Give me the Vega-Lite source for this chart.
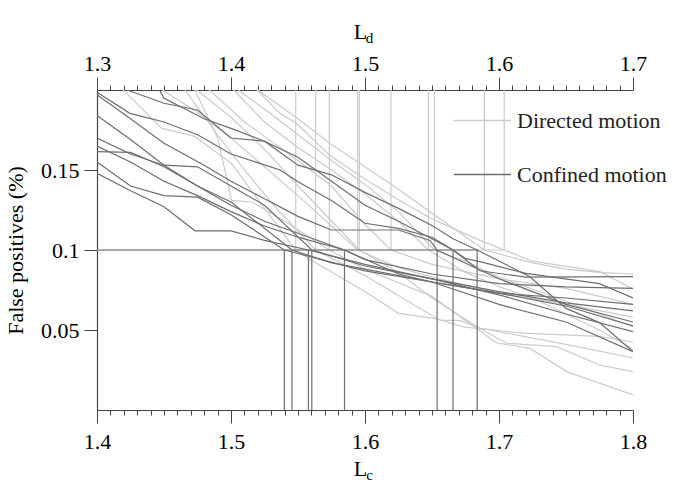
{
  "$schema": "https://vega.github.io/schema/vega-lite/v6.json",
  "width": 536,
  "height": 320,
  "autosize": {"type": "none"},
  "padding": {"left": 97, "top": 90, "right": 41, "bottom": 74},
  "background": "white",
  "config": {
    "view": {"stroke": null},
    "font": "Liberation Serif, Times New Roman, serif",
    "text": {"font": "Liberation Serif, Times New Roman, serif"},
    "axis": {"labelFont": "Liberation Serif, Times New Roman, serif", "titleFont": "Liberation Serif, Times New Roman, serif", "labelFontSize": 22, "titleFontSize": 22, "labelColor": "black", "titleColor": "black", "titleFontWeight": "normal", "domainColor": "#444444", "tickColor": "#444444", "domainWidth": 1.2, "tickWidth": 1, "grid": false, "labelOverlap": false, "labelFlush": false},
    "legend": {"labelFont": "Liberation Serif, Times New Roman, serif"}
  },
  "datasets": {
    "directed": [
      {"id": "d1", "L": 1.30, "fp": 0.228}, {"id": "d1", "L": 1.3196, "fp": 0.200}, {"id": "d1", "L": 1.3483, "fp": 0.176}, {"id": "d1", "L": 1.373, "fp": 0.171}, {"id": "d1", "L": 1.4005, "fp": 0.154}, {"id": "d1", "L": 1.425, "fp": 0.126}, {"id": "d1", "L": 1.4483, "fp": 0.100}, {"id": "d1", "L": 1.459, "fp": 0.094}, {"id": "d1", "L": 1.50, "fp": 0.074}, {"id": "d1", "L": 1.525, "fp": 0.0604}, {"id": "d1", "L": 1.5535, "fp": 0.057}, {"id": "d1", "L": 1.5734, "fp": 0.052}, {"id": "d1", "L": 1.5933, "fp": 0.050}, {"id": "d1", "L": 1.65, "fp": 0.041}, {"id": "d1", "L": 1.70, "fp": 0.0325},
      {"id": "d2", "L": 1.30, "fp": 0.25}, {"id": "d2", "L": 1.3657, "fp": 0.200}, {"id": "d2", "L": 1.39, "fp": 0.172}, {"id": "d2", "L": 1.41, "fp": 0.150}, {"id": "d2", "L": 1.435, "fp": 0.125}, {"id": "d2", "L": 1.4632, "fp": 0.100}, {"id": "d2", "L": 1.50, "fp": 0.084}, {"id": "d2", "L": 1.556, "fp": 0.056}, {"id": "d2", "L": 1.571, "fp": 0.056}, {"id": "d2", "L": 1.586, "fp": 0.051}, {"id": "d2", "L": 1.618, "fp": 0.048}, {"id": "d2", "L": 1.675, "fp": 0.046}, {"id": "d2", "L": 1.70, "fp": 0.0425},
      {"id": "d3", "L": 1.30, "fp": 0.24}, {"id": "d3", "L": 1.373, "fp": 0.200}, {"id": "d3", "L": 1.39, "fp": 0.17}, {"id": "d3", "L": 1.4005, "fp": 0.131}, {"id": "d3", "L": 1.4157, "fp": 0.130}, {"id": "d3", "L": 1.44, "fp": 0.118}, {"id": "d3", "L": 1.4734, "fp": 0.100}, {"id": "d3", "L": 1.50, "fp": 0.088}, {"id": "d3", "L": 1.55, "fp": 0.071}, {"id": "d3", "L": 1.598, "fp": 0.042}, {"id": "d3", "L": 1.6231, "fp": 0.0385}, {"id": "d3", "L": 1.6505, "fp": 0.024}, {"id": "d3", "L": 1.70, "fp": 0.0094},
      {"id": "d4", "L": 1.30, "fp": 0.235}, {"id": "d4", "L": 1.349, "fp": 0.200}, {"id": "d4", "L": 1.375, "fp": 0.186}, {"id": "d4", "L": 1.40, "fp": 0.170}, {"id": "d4", "L": 1.425, "fp": 0.152}, {"id": "d4", "L": 1.45, "fp": 0.134}, {"id": "d4", "L": 1.4946, "fp": 0.100}, {"id": "d4", "L": 1.525, "fp": 0.089}, {"id": "d4", "L": 1.55, "fp": 0.083}, {"id": "d4", "L": 1.60, "fp": 0.073}, {"id": "d4", "L": 1.65, "fp": 0.066}, {"id": "d4", "L": 1.70, "fp": 0.058},
      {"id": "d5", "L": 1.30, "fp": 0.26}, {"id": "d5", "L": 1.3745, "fp": 0.200}, {"id": "d5", "L": 1.40, "fp": 0.183}, {"id": "d5", "L": 1.425, "fp": 0.163}, {"id": "d5", "L": 1.45, "fp": 0.140}, {"id": "d5", "L": 1.4958, "fp": 0.100}, {"id": "d5", "L": 1.525, "fp": 0.086}, {"id": "d5", "L": 1.55, "fp": 0.070}, {"id": "d5", "L": 1.5858, "fp": 0.051}, {"id": "d5", "L": 1.6057, "fp": 0.0417}, {"id": "d5", "L": 1.643, "fp": 0.0396}, {"id": "d5", "L": 1.6754, "fp": 0.028}, {"id": "d5", "L": 1.70, "fp": 0.024},
      {"id": "d6", "L": 1.30, "fp": 0.25}, {"id": "d6", "L": 1.384, "fp": 0.200}, {"id": "d6", "L": 1.41, "fp": 0.180}, {"id": "d6", "L": 1.45, "fp": 0.156}, {"id": "d6", "L": 1.475, "fp": 0.140}, {"id": "d6", "L": 1.50, "fp": 0.116}, {"id": "d6", "L": 1.5194, "fp": 0.100}, {"id": "d6", "L": 1.55, "fp": 0.091}, {"id": "d6", "L": 1.60, "fp": 0.082}, {"id": "d6", "L": 1.65, "fp": 0.076}, {"id": "d6", "L": 1.70, "fp": 0.066},
      {"id": "d7", "L": 1.30, "fp": 0.27}, {"id": "d7", "L": 1.402, "fp": 0.200}, {"id": "d7", "L": 1.425, "fp": 0.180}, {"id": "d7", "L": 1.45, "fp": 0.164}, {"id": "d7", "L": 1.475, "fp": 0.150}, {"id": "d7", "L": 1.50, "fp": 0.135}, {"id": "d7", "L": 1.525, "fp": 0.118}, {"id": "d7", "L": 1.5473, "fp": 0.100}, {"id": "d7", "L": 1.575, "fp": 0.086}, {"id": "d7", "L": 1.60, "fp": 0.077}, {"id": "d7", "L": 1.625, "fp": 0.070}, {"id": "d7", "L": 1.65, "fp": 0.060}, {"id": "d7", "L": 1.675, "fp": 0.050}, {"id": "d7", "L": 1.70, "fp": 0.038},
      {"id": "d8", "L": 1.30, "fp": 0.27}, {"id": "d8", "L": 1.4054, "fp": 0.200}, {"id": "d8", "L": 1.43, "fp": 0.185}, {"id": "d8", "L": 1.45, "fp": 0.172}, {"id": "d8", "L": 1.475, "fp": 0.156}, {"id": "d8", "L": 1.50, "fp": 0.141}, {"id": "d8", "L": 1.525, "fp": 0.124}, {"id": "d8", "L": 1.5518, "fp": 0.100}, {"id": "d8", "L": 1.575, "fp": 0.093}, {"id": "d8", "L": 1.60, "fp": 0.083}, {"id": "d8", "L": 1.65, "fp": 0.068}, {"id": "d8", "L": 1.70, "fp": 0.052},
      {"id": "d9", "L": 1.30, "fp": 0.25}, {"id": "d9", "L": 1.42, "fp": 0.200}, {"id": "d9", "L": 1.45, "fp": 0.182}, {"id": "d9", "L": 1.475, "fp": 0.166}, {"id": "d9", "L": 1.50, "fp": 0.152}, {"id": "d9", "L": 1.525, "fp": 0.138}, {"id": "d9", "L": 1.55, "fp": 0.123}, {"id": "d9", "L": 1.589, "fp": 0.100}, {"id": "d9", "L": 1.625, "fp": 0.092}, {"id": "d9", "L": 1.65, "fp": 0.088}, {"id": "d9", "L": 1.675, "fp": 0.086}, {"id": "d9", "L": 1.70, "fp": 0.085},
      {"id": "d10", "L": 1.30, "fp": 0.28}, {"id": "d10", "L": 1.4195, "fp": 0.200}, {"id": "d10", "L": 1.4366, "fp": 0.1854}, {"id": "d10", "L": 1.449, "fp": 0.179}, {"id": "d10", "L": 1.4739, "fp": 0.159}, {"id": "d10", "L": 1.4987, "fp": 0.145}, {"id": "d10", "L": 1.5237, "fp": 0.132}, {"id": "d10", "L": 1.5485, "fp": 0.120}, {"id": "d10", "L": 1.5858, "fp": 0.106}, {"id": "d10", "L": 1.6039, "fp": 0.100}, {"id": "d10", "L": 1.625, "fp": 0.093}, {"id": "d10", "L": 1.6754, "fp": 0.0865}, {"id": "d10", "L": 1.70, "fp": 0.0756}
    ],
    "confined": [
      {"id": "c1", "L": 1.40, "fp": 0.148}, {"id": "c1", "L": 1.425, "fp": 0.137}, {"id": "c1", "L": 1.45, "fp": 0.127}, {"id": "c1", "L": 1.4731, "fp": 0.112}, {"id": "c1", "L": 1.50, "fp": 0.112}, {"id": "c1", "L": 1.525, "fp": 0.106}, {"id": "c1", "L": 1.5578, "fp": 0.100}, {"id": "c1", "L": 1.60, "fp": 0.091}, {"id": "c1", "L": 1.65, "fp": 0.082}, {"id": "c1", "L": 1.70, "fp": 0.072}, {"id": "c1", "L": 1.75, "fp": 0.060}, {"id": "c1", "L": 1.80, "fp": 0.049},
      {"id": "c2", "L": 1.40, "fp": 0.155}, {"id": "c2", "L": 1.425, "fp": 0.140}, {"id": "c2", "L": 1.45, "fp": 0.134}, {"id": "c2", "L": 1.475, "fp": 0.133}, {"id": "c2", "L": 1.50, "fp": 0.122}, {"id": "c2", "L": 1.5398, "fp": 0.100}, {"id": "c2", "L": 1.60, "fp": 0.087}, {"id": "c2", "L": 1.65, "fp": 0.080}, {"id": "c2", "L": 1.70, "fp": 0.066}, {"id": "c2", "L": 1.75, "fp": 0.055}, {"id": "c2", "L": 1.80, "fp": 0.0365},
      {"id": "c3", "L": 1.40, "fp": 0.1615}, {"id": "c3", "L": 1.425, "fp": 0.161}, {"id": "c3", "L": 1.45, "fp": 0.152}, {"id": "c3", "L": 1.475, "fp": 0.140}, {"id": "c3", "L": 1.50, "fp": 0.130}, {"id": "c3", "L": 1.5455, "fp": 0.100}, {"id": "c3", "L": 1.575, "fp": 0.092}, {"id": "c3", "L": 1.60, "fp": 0.088}, {"id": "c3", "L": 1.65, "fp": 0.080}, {"id": "c3", "L": 1.70, "fp": 0.073}, {"id": "c3", "L": 1.75, "fp": 0.065}, {"id": "c3", "L": 1.80, "fp": 0.0525},
      {"id": "c4", "L": 1.40, "fp": 0.170}, {"id": "c4", "L": 1.425, "fp": 0.160}, {"id": "c4", "L": 1.45, "fp": 0.153}, {"id": "c4", "L": 1.475, "fp": 0.152}, {"id": "c4", "L": 1.50, "fp": 0.140}, {"id": "c4", "L": 1.525, "fp": 0.128}, {"id": "c4", "L": 1.5603, "fp": 0.100}, {"id": "c4", "L": 1.60, "fp": 0.090}, {"id": "c4", "L": 1.65, "fp": 0.082}, {"id": "c4", "L": 1.70, "fp": 0.074}, {"id": "c4", "L": 1.75, "fp": 0.067}, {"id": "c4", "L": 1.80, "fp": 0.0619},
      {"id": "c5", "L": 1.40, "fp": 0.184}, {"id": "c5", "L": 1.425, "fp": 0.169}, {"id": "c5", "L": 1.45, "fp": 0.153}, {"id": "c5", "L": 1.475, "fp": 0.140}, {"id": "c5", "L": 1.50, "fp": 0.128}, {"id": "c5", "L": 1.525, "fp": 0.118}, {"id": "c5", "L": 1.5847, "fp": 0.100}, {"id": "c5", "L": 1.625, "fp": 0.085}, {"id": "c5", "L": 1.65, "fp": 0.080}, {"id": "c5", "L": 1.70, "fp": 0.073}, {"id": "c5", "L": 1.75, "fp": 0.070}, {"id": "c5", "L": 1.80, "fp": 0.066},
      {"id": "c6", "L": 1.40, "fp": 0.197}, {"id": "c6", "L": 1.425, "fp": 0.182}, {"id": "c6", "L": 1.45, "fp": 0.1667}, {"id": "c6", "L": 1.48, "fp": 0.153}, {"id": "c6", "L": 1.50, "fp": 0.143}, {"id": "c6", "L": 1.525, "fp": 0.132}, {"id": "c6", "L": 1.55, "fp": 0.121}, {"id": "c6", "L": 1.575, "fp": 0.1125}, {"id": "c6", "L": 1.625, "fp": 0.1125}, {"id": "c6", "L": 1.6485, "fp": 0.106}, {"id": "c6", "L": 1.6538, "fp": 0.100}, {"id": "c6", "L": 1.70, "fp": 0.082}, {"id": "c6", "L": 1.75, "fp": 0.066}, {"id": "c6", "L": 1.80, "fp": 0.055},
      {"id": "c7", "L": 1.40, "fp": 0.1986}, {"id": "c7", "L": 1.4246, "fp": 0.1854}, {"id": "c7", "L": 1.45, "fp": 0.180}, {"id": "c7", "L": 1.475, "fp": 0.172}, {"id": "c7", "L": 1.50, "fp": 0.160}, {"id": "c7", "L": 1.5366, "fp": 0.150}, {"id": "c7", "L": 1.55, "fp": 0.1427}, {"id": "c7", "L": 1.575, "fp": 0.131}, {"id": "c7", "L": 1.60, "fp": 0.1167}, {"id": "c7", "L": 1.625, "fp": 0.1135}, {"id": "c7", "L": 1.65, "fp": 0.108}, {"id": "c7", "L": 1.6657, "fp": 0.100}, {"id": "c7", "L": 1.6746, "fp": 0.0948}, {"id": "c7", "L": 1.6858, "fp": 0.0927}, {"id": "c7", "L": 1.72, "fp": 0.0854}, {"id": "c7", "L": 1.775, "fp": 0.079}, {"id": "c7", "L": 1.80, "fp": 0.070},
      {"id": "c8", "L": 1.40, "fp": 0.207}, {"id": "c8", "L": 1.4246, "fp": 0.1994}, {"id": "c8", "L": 1.45, "fp": 0.1917}, {"id": "c8", "L": 1.475, "fp": 0.1875}, {"id": "c8", "L": 1.50, "fp": 0.170}, {"id": "c8", "L": 1.525, "fp": 0.168}, {"id": "c8", "L": 1.55, "fp": 0.153}, {"id": "c8", "L": 1.575, "fp": 0.147}, {"id": "c8", "L": 1.60, "fp": 0.136}, {"id": "c8", "L": 1.625, "fp": 0.126}, {"id": "c8", "L": 1.65, "fp": 0.1153}, {"id": "c8", "L": 1.6657, "fp": 0.107}, {"id": "c8", "L": 1.6837, "fp": 0.100}, {"id": "c8", "L": 1.7231, "fp": 0.0833}, {"id": "c8", "L": 1.75, "fp": 0.0635}, {"id": "c8", "L": 1.775, "fp": 0.0546}, {"id": "c8", "L": 1.80, "fp": 0.0365},
      {"id": "c9", "L": 1.40, "fp": 0.225}, {"id": "c9", "L": 1.447, "fp": 0.1994}, {"id": "c9", "L": 1.45, "fp": 0.1948}, {"id": "c9", "L": 1.48, "fp": 0.182}, {"id": "c9", "L": 1.50, "fp": 0.176}, {"id": "c9", "L": 1.525, "fp": 0.168}, {"id": "c9", "L": 1.55, "fp": 0.158}, {"id": "c9", "L": 1.575, "fp": 0.143}, {"id": "c9", "L": 1.60, "fp": 0.128}, {"id": "c9", "L": 1.625, "fp": 0.118}, {"id": "c9", "L": 1.6657, "fp": 0.100}, {"id": "c9", "L": 1.6858, "fp": 0.087}, {"id": "c9", "L": 1.72, "fp": 0.083}, {"id": "c9", "L": 1.80, "fp": 0.0833},
      {"id": "c10", "L": 1.40, "fp": 0.165}, {"id": "c10", "L": 1.425, "fp": 0.155}, {"id": "c10", "L": 1.45, "fp": 0.143}, {"id": "c10", "L": 1.475, "fp": 0.134}, {"id": "c10", "L": 1.50, "fp": 0.124}, {"id": "c10", "L": 1.525, "fp": 0.115}, {"id": "c10", "L": 1.55, "fp": 0.108}, {"id": "c10", "L": 1.5847, "fp": 0.100}, {"id": "c10", "L": 1.60, "fp": 0.094}, {"id": "c10", "L": 1.65, "fp": 0.085}, {"id": "c10", "L": 1.70, "fp": 0.079}, {"id": "c10", "L": 1.75, "fp": 0.077}, {"id": "c10", "L": 1.80, "fp": 0.076}
    ],
    "dirRef": [
      {"L": 1.30, "L2": 1.6039, "fp": 0.1, "fp2": 0.1},
      {"L": 1.4483, "L2": 1.4483, "fp": 0.1, "fp2": 0.2},
      {"L": 1.4632, "L2": 1.4632, "fp": 0.1, "fp2": 0.2},
      {"L": 1.4734, "L2": 1.4734, "fp": 0.1, "fp2": 0.2},
      {"L": 1.4946, "L2": 1.4946, "fp": 0.1, "fp2": 0.2},
      {"L": 1.4958, "L2": 1.4958, "fp": 0.1, "fp2": 0.2},
      {"L": 1.5194, "L2": 1.5194, "fp": 0.1, "fp2": 0.2},
      {"L": 1.5473, "L2": 1.5473, "fp": 0.1, "fp2": 0.2},
      {"L": 1.5518, "L2": 1.5518, "fp": 0.1, "fp2": 0.2},
      {"L": 1.589, "L2": 1.589, "fp": 0.1, "fp2": 0.2},
      {"L": 1.6039, "L2": 1.6039, "fp": 0.1, "fp2": 0.2}
    ],
    "confRef": [
      {"L": 1.40, "L2": 1.6837, "fp": 0.1, "fp2": 0.1},
      {"L": 1.5398, "L2": 1.5398, "fp": 0.0, "fp2": 0.1},
      {"L": 1.5455, "L2": 1.5455, "fp": 0.0, "fp2": 0.1},
      {"L": 1.5578, "L2": 1.5578, "fp": 0.0, "fp2": 0.1},
      {"L": 1.5603, "L2": 1.5603, "fp": 0.0, "fp2": 0.1},
      {"L": 1.5847, "L2": 1.5847, "fp": 0.0, "fp2": 0.1},
      {"L": 1.6538, "L2": 1.6538, "fp": 0.0, "fp2": 0.1},
      {"L": 1.6657, "L2": 1.6657, "fp": 0.0, "fp2": 0.1},
      {"L": 1.6837, "L2": 1.6837, "fp": 0.0, "fp2": 0.1}
    ]
  },
  "layer": [
    {
      "encoding": {
        "y": {"field": "fp", "type": "quantitative", "scale": {"domain": [0, 0.2], "nice": false, "zero": false},
              "axis": {"values": [0.05, 0.1, 0.15], "tickSize": 13, "labelPadding": 5, "labelExpr": "'' + datum.value", "title": "False positives (%)", "titleAngle": -90, "titleX": -75, "titleY": 160, "titleAlign": "center", "titleBaseline": "alphabetic"}},
        "color": {"datum": "Directed motion", "type": "nominal",
                  "scale": {"domain": ["Directed motion", "Confined motion"], "range": ["#cbcbcb", "#6e6e6e"]},
                  "legend": {"title": null, "orient": "none", "legendX": 356, "legendY": 1, "symbolType": "stroke", "symbolSize": 3249, "symbolStrokeWidth": 1.5, "labelFontSize": 22, "labelColor": "#222222", "labelOffset": 5, "rowPadding": 13, "padding": 0}}
      },
      "layer": [
        {
          "data": {"name": "dirRef"},
          "mark": {"type": "rule", "strokeWidth": 1.2},
          "encoding": {
            "x": {"field": "L", "type": "quantitative", "scale": {"domain": [1.3, 1.7], "nice": false, "zero": false},
                  "axis": {"orient": "top", "domain": false, "ticks": true, "tickSize": 5, "labels": false,
                           "values": [1.31,1.32,1.33,1.34,1.35,1.36,1.37,1.38,1.39,1.41,1.42,1.43,1.44,1.45,1.46,1.47,1.48,1.49,1.51,1.52,1.53,1.54,1.55,1.56,1.57,1.58,1.59,1.61,1.62,1.63,1.64,1.65,1.66,1.67,1.68,1.69],
                           "title": "d", "titleFontSize": 15, "titleX": 272, "titleY": -48, "titleAlign": "center", "titleBaseline": "alphabetic"}},
            "x2": {"field": "L2"},
            "y2": {"field": "fp2"}
          }
        },
        {
          "data": {"name": "directed"},
          "mark": {"type": "line", "strokeWidth": 1.2, "clip": true},
          "encoding": {
            "x": {"field": "L", "type": "quantitative", "scale": {"domain": [1.3, 1.7], "nice": false, "zero": false},
                  "axis": {"orient": "top", "values": [1.3, 1.4, 1.5, 1.6, 1.7], "tickSize": 13, "format": ".1f",
                           "labelPadding": 2, "title": "L", "titleX": 263, "titleY": -52, "titleAlign": "center", "titleBaseline": "alphabetic"}},
            "detail": {"field": "id"}
          }
        }
      ],
      "resolve": {"axis": {"x": "independent"}}
    },
    {
      "encoding": {
        "y": {"field": "fp", "type": "quantitative", "scale": {"domain": [0, 0.2], "nice": false, "zero": false},
              "axis": {"values": [0.05, 0.1, 0.15], "tickSize": 13, "labelPadding": 5, "labelExpr": "'' + datum.value", "title": "False positives (%)", "titleAngle": -90, "titleX": -75, "titleY": 160, "titleAlign": "center", "titleBaseline": "alphabetic"}},
        "color": {"datum": "Confined motion", "type": "nominal",
                  "scale": {"domain": ["Directed motion", "Confined motion"], "range": ["#cbcbcb", "#6e6e6e"]}}
      },
      "layer": [
        {
          "data": {"name": "confRef"},
          "mark": {"type": "rule", "strokeWidth": 1.2},
          "encoding": {
            "x": {"field": "L", "type": "quantitative", "scale": {"domain": [1.4, 1.8], "nice": false, "zero": false},
                  "axis": {"orient": "bottom", "domain": false, "ticks": true, "tickSize": 5, "labels": false,
                           "values": [1.41,1.42,1.43,1.44,1.45,1.46,1.47,1.48,1.49,1.51,1.52,1.53,1.54,1.55,1.56,1.57,1.58,1.59,1.61,1.62,1.63,1.64,1.65,1.66,1.67,1.68,1.69,1.71,1.72,1.73,1.74,1.75,1.76,1.77,1.78,1.79],
                           "title": "c", "titleFontSize": 15, "titleX": 272, "titleY": 69, "titleAlign": "center", "titleBaseline": "alphabetic"}},
            "x2": {"field": "L2"},
            "y2": {"field": "fp2"}
          }
        },
        {
          "data": {"name": "confined"},
          "mark": {"type": "line", "strokeWidth": 1.2, "clip": true},
          "encoding": {
            "x": {"field": "L", "type": "quantitative", "scale": {"domain": [1.4, 1.8], "nice": false, "zero": false},
                  "axis": {"orient": "bottom", "values": [1.4, 1.5, 1.6, 1.7, 1.8], "tickSize": 13, "format": ".1f",
                           "labelPadding": 8, "title": "L", "titleX": 263, "titleY": 65, "titleAlign": "center", "titleBaseline": "alphabetic"}},
            "detail": {"field": "id"}
          }
        }
      ],
      "resolve": {"axis": {"x": "independent"}}
    }
  ],
  "resolve": {"scale": {"x": "independent"}}
}
